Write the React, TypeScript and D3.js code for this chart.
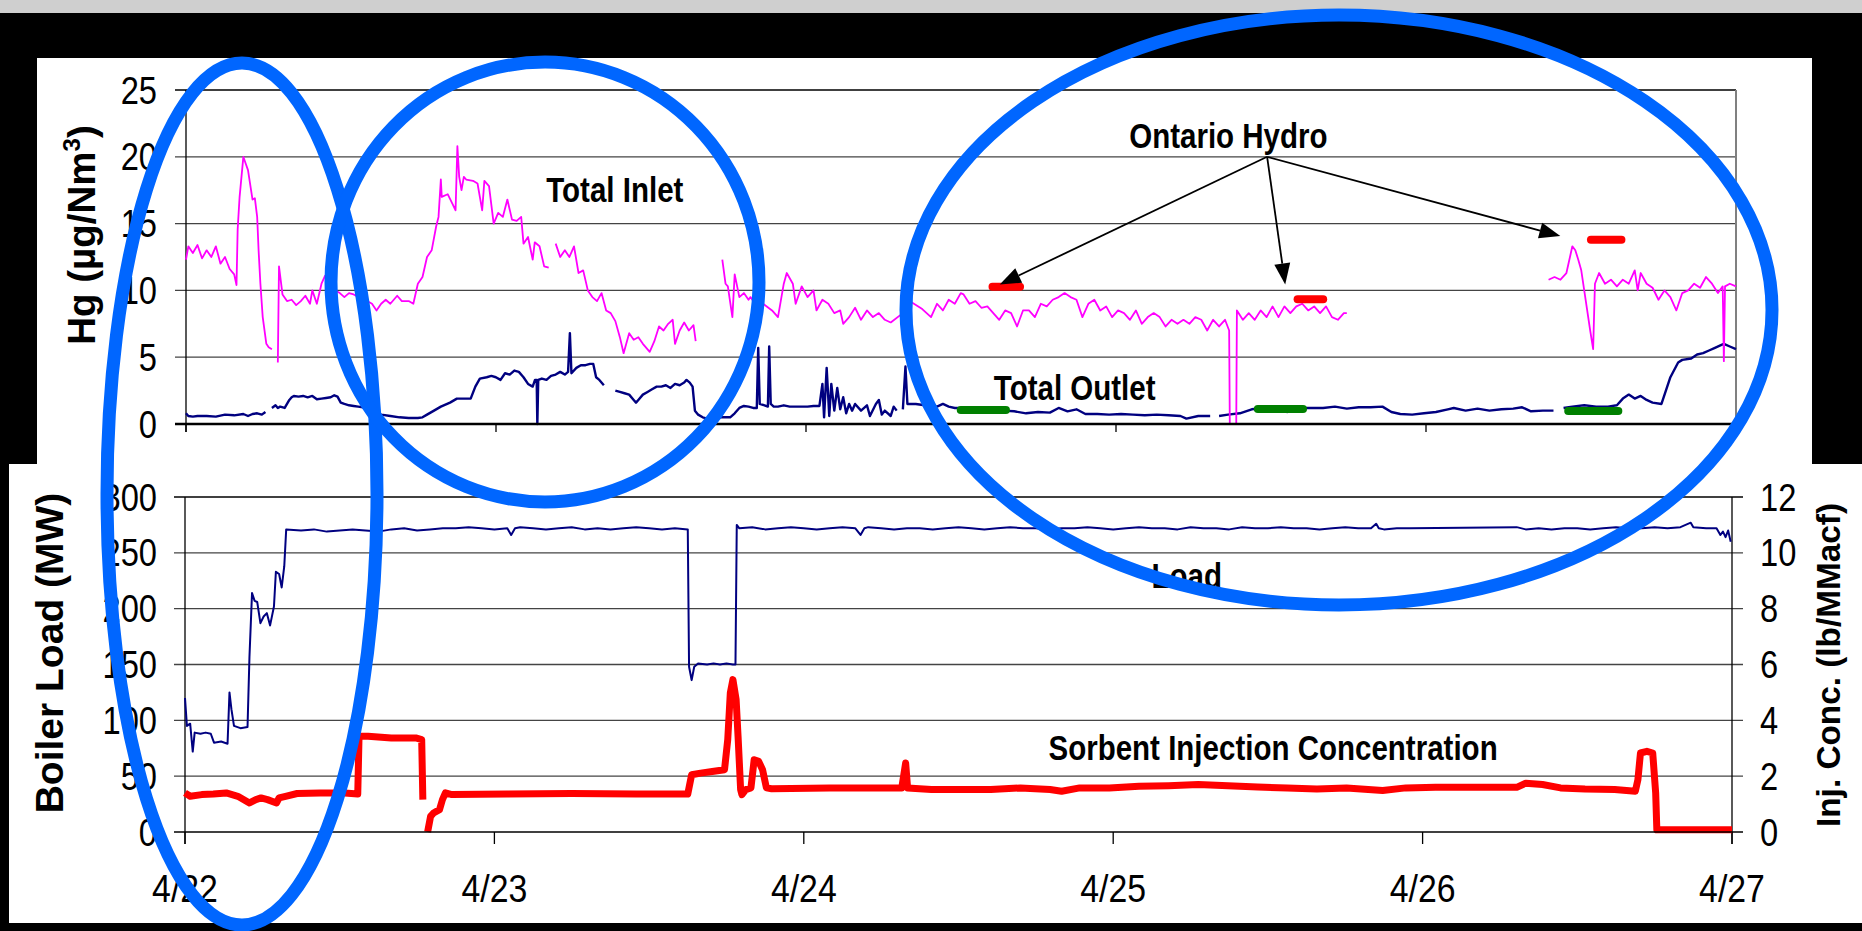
import React from 'react';
import * as d3 from 'd3';

type Pt = [number, number];

// Time axis: hours since 4/22 00:00
const dayLabels = ['4/22', '4/23', '4/24', '4/25', '4/26', '4/27'];
const dayHours = [0, 24, 48, 72, 96, 120];
const hgTicks = [0, 5, 10, 15, 20, 25];
const loadTicks = [0, 50, 100, 150, 200, 250, 300];
const injTicks = [0, 2, 4, 6, 8, 10, 12];

// Total inlet Hg (µg/Nm3), continuous-monitor segments
const inletA: Pt[] = [[0.0, 12.3], [0.18, 13.3], [0.53, 12.8], [0.89, 13.4], [1.24, 12.4], [1.6, 13.0], [1.96, 12.5], [2.31, 13.3], [2.67, 12.0], [3.02, 12.5], [3.38, 11.6], [3.73, 11.2], [3.91, 10.4], [4.0, 14.6], [4.15, 17.0], [4.44, 20.0], [4.62, 19.5], [4.8, 19.0], [5.15, 16.8], [5.33, 16.9], [5.51, 15.5], [5.62, 13.0], [5.76, 10.5], [5.94, 8.0], [6.22, 6.0], [6.4, 5.75], [6.65, 5.6]];
const inletB: Pt[] = [[7.11, 4.6], [7.2, 11.8], [7.47, 9.7], [7.82, 9.2], [8.18, 9.3], [8.53, 8.9], [8.89, 9.2], [9.24, 9.6], [9.6, 9.0], [9.78, 10.0], [10.13, 9.0], [10.49, 10.5], [10.77, 11.1], [11.02, 10.5], [11.55, 10.0], [11.91, 9.8], [12.26, 9.5], [12.62, 9.8], [12.98, 9.7], [13.33, 9.5], [13.86, 9.3], [14.4, 9.0], [14.75, 8.5], [15.11, 9.0], [15.46, 9.3], [15.82, 9.0], [16.35, 9.6], [16.71, 9.2], [17.24, 9.2], [17.6, 9.0], [17.95, 10.5], [18.31, 11.0], [18.66, 12.5], [19.02, 13.0], [19.37, 14.8], [19.55, 15.5], [19.73, 18.3], [19.8, 17.0], [20.26, 17.2], [20.62, 16.5], [20.87, 16.0], [21.01, 20.8], [21.15, 18.5], [21.33, 17.5], [21.51, 18.5], [21.69, 18.3], [22.22, 18.2], [22.57, 18.0], [22.75, 17.0], [22.93, 16.0], [23.1, 18.2], [23.46, 17.8], [23.82, 15.0], [24.17, 15.8], [24.53, 15.5], [24.88, 16.8], [25.24, 15.3], [25.6, 15.2], [25.95, 15.5], [26.13, 13.5], [26.48, 14.0], [26.84, 12.3], [27.0, 13.6], [27.37, 13.3], [27.73, 11.8], [28.08, 11.7]];
const inletC: Pt[] = [[28.62, 13.5], [28.97, 12.5], [29.33, 13.0], [29.68, 12.5], [30.04, 13.3], [30.39, 11.3], [30.75, 11.5], [31.11, 10.0], [31.46, 9.5], [31.82, 9.2], [32.17, 9.8], [32.53, 8.5], [32.88, 8.3], [33.24, 7.7], [33.59, 6.5], [33.88, 5.3], [34.31, 6.8], [34.66, 6.3], [35.02, 6.5], [35.37, 6.0], [35.9, 5.4], [36.26, 6.2], [36.62, 7.3], [36.97, 7.0], [37.33, 7.5], [37.68, 7.8], [37.86, 6.0], [38.22, 7.0], [38.57, 7.6], [38.93, 7.0], [39.29, 7.4], [39.46, 6.2]];
const inletD: Pt[] = [[41.52, 12.3], [41.77, 10.5], [41.95, 10.3], [42.3, 8.0], [42.48, 11.2], [42.84, 9.5], [43.19, 9.8], [43.55, 9.3], [43.7, 9.5], [44.2, 8.8], [44.68, 9.0], [45.37, 8.5], [45.83, 8.0], [46.28, 10.5], [46.51, 11.3], [46.98, 10.5], [47.2, 9.0], [47.67, 10.3], [48.12, 9.5], [48.58, 10.0], [48.81, 8.5], [49.27, 9.3], [49.73, 9.0], [50.19, 8.3], [50.65, 8.5], [50.88, 7.5], [51.34, 8.0], [51.8, 8.7], [52.26, 7.8], [52.72, 8.5], [53.18, 8.0], [53.64, 8.3], [54.1, 7.8], [54.56, 7.6], [55.5, 8.3], [56.2, 9.1], [57.0, 8.6], [57.68, 8.0], [58.14, 9.0], [58.6, 8.5], [59.05, 9.3], [59.52, 9.0], [59.98, 9.8], [60.2, 9.7], [60.66, 9.0], [61.12, 9.2], [61.58, 8.7], [62.04, 8.8], [62.5, 8.3], [62.96, 7.8], [63.42, 8.5], [63.88, 8.3], [64.34, 7.3], [64.8, 8.5], [65.26, 8.5], [65.72, 8.0], [66.18, 9.0], [66.64, 8.8], [67.1, 9.3], [67.56, 9.5], [68.02, 9.8], [68.48, 9.5], [68.94, 9.3], [69.4, 8.0], [69.86, 9.0], [70.32, 9.3], [70.78, 8.5], [71.24, 8.8], [71.7, 8.0], [72.16, 8.5], [72.62, 8.3], [73.08, 7.8], [73.54, 8.5], [74.0, 7.5], [74.46, 8.0], [74.92, 8.3], [75.38, 8.0], [75.84, 7.3], [76.3, 7.8], [76.76, 7.5], [77.22, 7.8], [77.68, 7.5], [78.14, 8.0], [78.6, 7.8], [79.06, 7.0], [79.52, 7.8], [79.98, 7.3], [80.44, 7.8], [80.76, 7.0], [80.81, 0], [81.31, 0], [81.36, 8.5], [81.82, 7.8], [82.28, 8.3], [82.74, 7.8], [83.2, 8.5], [83.66, 8.0], [84.12, 8.8], [84.58, 8.0], [85.04, 8.8], [85.5, 8.3], [85.96, 8.8], [86.42, 9.0], [86.88, 8.5], [87.34, 8.8], [87.8, 8.3], [88.26, 8.8], [88.72, 8.0], [89.18, 7.8], [89.64, 8.3], [89.87, 8.3]];
const inletE: Pt[] = [[105.49, 10.8], [105.95, 11.0], [106.41, 10.8], [106.87, 11.3], [107.33, 13.3], [107.56, 13.0], [107.79, 12.3], [108.02, 11.5], [108.25, 10.0], [108.71, 7.0], [108.94, 5.6], [109.08, 10.5], [109.4, 11.3], [109.86, 10.5], [110.32, 10.8], [110.78, 10.3], [111.24, 10.8], [111.7, 10.5], [112.16, 11.5], [112.39, 10.0], [112.62, 11.3], [113.08, 10.5], [113.54, 10.2], [114.0, 9.3], [114.46, 10.0], [114.92, 9.5], [115.38, 8.5], [115.84, 9.8], [116.3, 10.0], [116.76, 10.5], [117.22, 10.2], [117.68, 11.0], [118.14, 10.5], [118.6, 9.8], [118.97, 10.3], [119.06, 4.7], [119.15, 10.3], [119.52, 10.5], [120, 10.3]];

// Total outlet Hg (µg/Nm3)
const outletA: Pt[] = [[0, 0.8], [0.18, 0.6], [0.53, 0.55], [0.89, 0.6], [1.6, 0.6], [2.31, 0.55], [3.02, 0.7], [3.73, 0.65], [4.44, 0.75], [4.8, 0.6], [5.15, 0.75], [5.51, 0.8], [5.87, 0.7], [6.15, 0.9]];
const outletB: Pt[] = [[6.65, 1.2], [6.93, 1.4], [7.11, 1.2], [7.29, 1.3], [7.64, 1.2], [7.82, 1.5], [8.0, 1.8], [8.18, 2.0], [8.35, 2.1], [8.71, 2.05], [9.07, 2.1], [9.42, 2.0], [9.78, 2.1], [10.13, 1.85], [10.49, 1.9], [10.84, 1.95], [11.2, 2.0], [11.48, 2.15], [11.73, 2.05], [11.98, 1.6], [12.26, 1.5], [12.62, 1.4], [12.98, 1.35], [13.33, 1.3], [13.69, 1.25], [14.4, 0.9], [15.11, 0.7], [15.82, 0.6], [16.53, 0.5], [17.24, 0.45], [17.95, 0.45], [18.31, 0.5], [18.66, 0.7], [19.2, 1.0], [19.73, 1.3], [20.44, 1.6], [20.97, 1.9], [21.51, 1.9], [22.04, 1.9], [22.4, 2.8], [22.75, 3.4], [23.28, 3.5], [23.64, 3.6], [23.99, 3.5], [24.35, 3.3], [24.7, 3.8], [25.06, 3.7], [25.42, 4.0], [25.77, 3.9], [26.13, 3.5], [26.48, 3.0], [26.84, 2.8], [27.02, 3.3], [27.15, 3.3], [27.2, 0.0], [27.27, 3.3], [27.55, 3.4], [27.91, 3.3], [28.26, 3.6], [28.62, 3.7], [28.97, 3.9], [29.33, 3.7], [29.58, 3.9], [29.72, 6.8], [29.84, 3.8], [30.22, 4.2], [30.57, 4.4], [30.93, 4.4], [31.28, 4.5], [31.53, 4.5], [31.75, 3.5], [32.0, 3.3], [32.35, 2.9]];
const outletC: Pt[] = [[33.24, 2.5], [33.59, 2.4], [33.95, 2.3], [34.31, 2.2], [34.66, 1.8], [34.84, 1.6], [35.02, 1.8], [35.37, 2.2], [35.73, 2.4], [36.08, 2.6], [36.44, 2.8], [36.8, 2.8], [37.15, 2.9], [37.51, 2.7], [37.86, 3.0], [38.22, 2.9], [38.57, 3.1], [38.75, 3.3], [39.0, 3.1], [39.22, 2.8], [39.4, 1.0], [39.65, 0.7], [40.0, 0.5], [40.35, 0.4], [40.71, 0.35], [41.42, 0.5], [42.13, 0.5], [42.48, 0.8], [42.84, 1.2], [43.19, 1.35], [43.55, 1.3], [43.91, 1.2], [44.19, 1.2], [44.3, 5.7], [44.42, 1.5], [44.79, 1.4], [45.05, 1.3], [45.15, 5.8], [45.27, 1.5], [45.5, 1.3], [45.83, 1.3], [46.28, 1.4], [46.74, 1.3], [47.2, 1.3], [47.67, 1.3], [48.12, 1.3], [48.58, 1.35], [49.04, 1.35], [49.27, 3.0], [49.4, 0.5], [49.6, 4.2], [49.8, 0.6], [49.96, 3.0], [50.19, 1.0], [50.42, 2.7], [50.65, 1.1], [50.88, 2.0], [51.11, 0.8], [51.34, 1.5], [51.57, 1.0], [51.8, 1.5], [52.26, 1.0], [52.72, 1.4], [52.95, 0.6], [53.41, 1.5], [53.64, 1.8], [53.87, 0.7], [54.1, 1.0], [54.56, 0.6], [54.79, 1.3], [55.02, 1.0]];
const outletD: Pt[] = [[55.5, 1.1], [55.7, 4.3], [55.85, 1.5], [56.5, 1.5], [57.2, 1.4], [57.68, 1.4], [58.14, 1.3], [58.6, 1.5], [59.05, 1.3], [59.52, 1.2], [60.44, 1.2], [61.36, 1.15], [62.28, 1.1], [63.2, 1.0], [64.12, 0.95], [65.04, 0.8], [65.96, 0.9], [66.88, 0.85], [67.56, 1.2], [68.25, 0.95], [68.94, 1.1], [69.63, 0.75], [70.55, 0.75], [71.47, 0.7], [72.39, 0.75], [73.31, 0.7], [74.23, 0.65], [75.15, 0.7], [76.07, 0.65], [76.99, 0.6], [77.45, 0.4], [78.37, 0.6], [79.29, 0.6]];
const outletE: Pt[] = [[79.98, 0.6], [80.67, 0.7], [81.59, 0.8], [82.51, 1.1], [83.43, 1.2], [84.35, 1.15], [85.27, 0.9], [86.19, 1.2], [87.11, 1.2], [88.03, 1.2], [88.95, 1.3], [89.87, 1.15], [90.79, 1.25], [91.71, 1.25], [92.63, 1.3], [93.32, 0.9], [94.01, 0.75], [94.93, 0.7], [95.85, 0.8], [96.77, 0.9], [97.69, 1.1], [98.15, 1.2], [99.07, 1.0], [99.99, 1.15], [100.91, 1.0], [101.83, 1.1], [102.75, 1.15], [103.44, 1.25], [104.13, 0.95], [105.05, 1.0], [105.87, 1.0]];
const outletF: Pt[] = [[106.65, 1.2], [107.33, 1.3], [108.25, 1.4], [109.17, 1.3], [110.09, 1.3], [110.78, 1.4], [111.24, 1.9], [111.7, 2.2], [112.16, 1.9], [112.62, 2.1], [113.08, 1.8], [113.54, 1.6], [114.23, 1.5], [114.92, 3.5], [115.52, 4.6], [115.84, 4.8], [116.53, 4.9], [116.99, 5.2], [117.45, 5.3], [117.91, 5.5], [118.37, 5.7], [118.83, 5.9], [119.06, 6.0], [119.52, 5.8], [120, 5.6]];

// Ontario Hydro method results: [start hour, end hour, value]
const ohInlet: [number, number, number][] = [[62.13, 64.88, 10.28], [85.75, 88.35, 9.33], [108.46, 111.44, 13.79]];
const ohOutlet: [number, number, number][] = [[59.67, 63.79, 1.04], [82.67, 86.79, 1.13], [106.7, 111.2, 0.98]];

// Boiler load (MW)
const loadA: Pt[] = [[0, 120], [0.15, 95], [0.4, 97], [0.6, 72], [0.75, 89], [1.2, 88], [1.6, 89], [2.0, 88], [2.25, 80], [2.8, 81], [3.3, 79], [3.45, 125], [3.6, 110], [3.8, 95], [4.3, 93], [4.85, 94], [5.0, 157], [5.2, 214], [5.4, 207], [5.6, 206], [5.85, 187], [6.1, 193], [6.35, 196], [6.6, 185], [6.9, 202], [7.05, 233], [7.3, 231], [7.5, 219], [7.7, 238], [7.85, 271], [9, 270], [10, 271], [11, 269], [12, 270], [13, 271], [14, 270], [15, 269], [16, 271], [17, 272], [18, 270], [19, 271], [20, 272], [21, 272], [22, 273], [23, 272], [24, 271], [25, 272], [25.3, 266], [25.6, 272], [26, 273], [27, 272], [28, 271], [29, 272], [30, 273], [31, 271], [32, 272], [33, 271], [34, 272], [35, 273], [36, 272], [37, 271], [38, 272], [39.0, 271], [39.1, 148], [39.3, 136], [39.5, 148], [39.8, 151], [40.5, 150], [41, 151], [41.5, 150], [42, 151], [42.5, 150], [42.7, 150], [42.8, 275], [43, 272], [44, 273], [45, 271], [46, 272], [47, 273], [48, 272], [49, 271], [50, 272], [51, 273], [52, 272], [52.4, 266], [52.7, 272], [53, 273], [54, 272], [55, 271], [56, 272], [57, 272], [58, 271], [59, 272], [60, 273], [61, 272], [62, 271], [63, 272], [64, 273], [65, 272], [66, 272], [67, 271], [68, 272], [69, 272], [70, 273], [71, 272], [72, 271], [73, 272], [74, 273], [75, 272], [76, 272], [77, 271], [78, 273], [79, 272], [80, 272], [81, 271], [82, 273], [83, 272], [84, 272], [85, 273], [86, 272], [87, 272], [88, 271], [89, 272], [90, 273], [91, 272], [92, 272], [92.4, 276], [92.6, 272], [93, 271], [94, 272], [95, 272], [103.3, 273], [104, 271], [105, 272], [106, 271], [107, 272], [108, 272], [109, 271], [110, 272], [111, 273], [112, 272], [113, 272], [114, 273], [115, 272], [116, 273], [116.8, 277], [117, 273], [118, 272], [118.8, 272], [119.1, 266], [119.3, 269], [119.5, 264], [119.7, 270], [119.9, 260]];

// Sorbent injection concentration (lb/MMacf)
const injA: Pt[] = [[0, 1.4], [0.4, 1.28], [1.3, 1.34], [2.2, 1.36], [3.2, 1.4], [4.1, 1.28], [5.0, 1.04], [5.5, 1.16], [5.9, 1.22], [6.4, 1.16], [7.1, 1.04], [7.3, 1.22], [7.8, 1.28], [8.7, 1.38], [10.5, 1.4], [12.4, 1.4], [13.4, 1.36], [13.5, 3.43], [14.2, 3.43], [16.0, 3.37], [17.9, 3.37], [18.36, 3.31], [18.45, 1.16]];
const injB: Pt[] = [[18.82, 0], [19.05, 0.56], [19.28, 0.68], [19.74, 0.8], [19.97, 1.16], [20.2, 1.4], [20.7, 1.34], [25, 1.36], [30, 1.38], [35, 1.36], [39.0, 1.36], [39.3, 2.05], [40.0, 2.11], [40.9, 2.17], [41.85, 2.23], [42.1, 3.31], [42.3, 4.98], [42.5, 5.46], [42.75, 4.74], [42.9, 3.43], [43.1, 1.52], [43.2, 1.34], [43.5, 1.52], [43.9, 1.58], [44.15, 2.59], [44.5, 2.53], [44.8, 2.23], [45.1, 1.58], [45.5, 1.55], [50, 1.58], [55.6, 1.58], [55.9, 2.47], [56.05, 1.58], [57.9, 1.52], [62.5, 1.52], [64.8, 1.58], [67.1, 1.52], [68.0, 1.46], [69.4, 1.58], [71.7, 1.58], [74.0, 1.64], [76.3, 1.66], [78.6, 1.7], [80.9, 1.66], [83.2, 1.61], [85.5, 1.58], [87.8, 1.54], [90.1, 1.58], [92.9, 1.49], [94.7, 1.58], [97, 1.6], [103.3, 1.6], [104, 1.75], [105.3, 1.7], [106.7, 1.58], [108.6, 1.54], [110.9, 1.52], [112.5, 1.46], [112.7, 1.87], [112.9, 2.83], [113.4, 2.89], [113.85, 2.83], [114.08, 1.4], [114.17, 0.08], [114.5, 0.08], [120, 0.08]];

// Annotation anchors in data units (hours, µg/Nm3)
const ohLabelAt: Pt = [80.7, 20.65];
const ohArrowFrom: Pt = [83.7, 20.0];
const ohArrowTips: Pt[] = [[63.0, 10.44], [85.1, 10.44], [106.4, 14.07]];

const SANS = "'Liberation Sans', Arial, Helvetica, sans-serif";
const HIGHLIGHT = '#0066ff';

function NText(props: { x: number; y: number; anchor?: 'start' | 'middle' | 'end'; size: number; bold?: boolean; sx?: number; children: React.ReactNode }) {
  const { x, y, anchor = 'start', size, bold = false, sx = 0.84, children } = props;
  return (
    <text
      transform={`translate(${x},${y}) scale(${sx},1)`}
      textAnchor={anchor}
      fontFamily={SANS}
      fontSize={size}
      fontWeight={bold ? 'bold' : 'normal'}
      fill="#000"
    >
      {children}
    </text>
  );
}

export default function App() {
  React.useEffect(() => {
    document.body.style.margin = '0';
    document.body.style.overflow = 'hidden';
  }, []);

  const W = 1862;
  const H = 931;

  const xUp = d3.scaleLinear().domain([0, 120]).range([186, 1736]);
  const yHg = d3.scaleLinear().domain([0, 25]).range([424, 90]);
  const xLo = d3.scaleLinear().domain([0, 120]).range([185, 1732]);
  const yLoad = d3.scaleLinear().domain([0, 300]).range([832, 497]);
  const yInj = d3.scaleLinear().domain([0, 12]).range([832, 497]);

  const hgLine = d3.line<Pt>().x((d) => xUp(d[0])).y((d) => yHg(d[1]));
  const loadLine = d3.line<Pt>().x((d) => xLo(d[0])).y((d) => yLoad(d[1]));
  const injLine = d3.line<Pt>().x((d) => xLo(d[0])).y((d) => yInj(d[1]));

  const inletSegs = [inletA, inletB, inletC, inletD, inletE];
  const outletSegs = [outletA, outletB, outletC, outletD, outletE, outletF];

  const [ox, oy] = [xUp(ohArrowFrom[0]), yHg(ohArrowFrom[1])];

  return (
    <svg width={W} height={H} style={{ position: 'absolute', left: 0, top: 0, display: 'block' }}>
      {/* backdrop */}
      <rect x={0} y={0} width={W} height={H} fill="#000" />
      <rect x={0} y={0} width={W} height={13} fill="#cfcfcf" />
      <rect x={37} y={58} width={1775} height={407} fill="#fff" />
      <rect x={9} y={464} width={1853} height={459} fill="#fff" />

      {/* ---- upper panel: Hg ---- */}
      {hgTicks.filter((t) => t > 0).map((t) => (
        <line key={`hg-g${t}`} x1={175} x2={xUp(120)} y1={yHg(t)} y2={yHg(t)} stroke={t === 25 ? '#000' : '#444'} strokeWidth={1.3} />
      ))}
      <line x1={xUp(120)} x2={xUp(120)} y1={yHg(25)} y2={yHg(0)} stroke="#808080" strokeWidth={2} />
      <line x1={xUp(0)} x2={xUp(0)} y1={yHg(25)} y2={yHg(0) + 8} stroke="#000" strokeWidth={1.3} />
      {dayHours.map((h) => (
        <line key={`hg-t${h}`} x1={xUp(h)} x2={xUp(h)} y1={yHg(0)} y2={yHg(0) + 8} stroke="#000" strokeWidth={1.3} />
      ))}
      {hgTicks.map((t) => (
        <NText key={`hg-l${t}`} x={157} y={yHg(t) + 13.6} anchor="end" size={38} sx={0.86}>{t}</NText>
      ))}

      {outletSegs.map((s, i) => (
        <path key={`out${i}`} d={hgLine(s) || ''} fill="none" stroke="#000080" strokeWidth={2.4} strokeLinejoin="round" />
      ))}
      {inletSegs.map((s, i) => (
        <path key={`in${i}`} d={hgLine(s) || ''} fill="none" stroke="#ff00ff" strokeWidth={1.8} strokeLinejoin="round" />
      ))}
      <line x1={175} x2={xUp(120)} y1={yHg(0)} y2={yHg(0)} stroke="#000" strokeWidth={2.5} />

      {ohInlet.map(([a, b, v], i) => (
        <line key={`ohi${i}`} x1={xUp(a) + 4} x2={xUp(b) - 4} y1={yHg(v)} y2={yHg(v)} stroke="#ff0000" strokeWidth={8} strokeLinecap="round" />
      ))}
      {ohOutlet.map(([a, b, v], i) => (
        <line key={`oho${i}`} x1={xUp(a) + 4} x2={xUp(b) - 4} y1={yHg(v)} y2={yHg(v)} stroke="#008000" strokeWidth={8} strokeLinecap="round" />
      ))}

      {/* Ontario Hydro call-outs */}
      {ohArrowTips.map(([h, v], i) => {
        const tx = xUp(h);
        const ty = yHg(v);
        const dx = tx - ox;
        const dy = ty - oy;
        const len = Math.hypot(dx, dy);
        const ux = dx / len;
        const uy = dy / len;
        const hl = 21;
        const hw = 8;
        const bx = tx - ux * hl;
        const by = ty - uy * hl;
        const pts = [[tx, ty], [bx - uy * hw, by + ux * hw], [bx + uy * hw, by - ux * hw]];
        return (
          <g key={`arr${i}`}>
            <line x1={ox} y1={oy} x2={bx} y2={by} stroke="#000" strokeWidth={1.8} />
            <polygon points={pts.map((p) => p.join(',')).join(' ')} fill="#000" />
          </g>
        );
      })}
      <NText x={xUp(ohLabelAt[0])} y={yHg(ohLabelAt[1])} anchor="middle" size={36} bold sx={0.82}>Ontario Hydro</NText>
      <NText x={xUp(33.2)} y={yHg(16.6)} anchor="middle" size={36} bold sx={0.82}>Total Inlet</NText>
      <NText x={xUp(68.8)} y={yHg(1.8)} anchor="middle" size={36} bold sx={0.82}>Total Outlet</NText>

      <text transform={`translate(94.5,235) rotate(-90)`} textAnchor="middle" fontFamily={SANS} fontWeight="bold" fontSize={38.5} fill="#000">
        Hg (µg/Nm<tspan fontSize={24} dy={-15}>3</tspan><tspan dy={15}>)</tspan>
      </text>

      {/* ---- lower panel: load and injection ---- */}
      {loadTicks.filter((t) => t > 0).map((t) => (
        <line key={`ld-g${t}`} x1={174} x2={xLo(120) + 11} y1={yLoad(t)} y2={yLoad(t)} stroke={t === 300 ? '#000' : '#444'} strokeWidth={1.3} />
      ))}
      <line x1={xLo(0)} x2={xLo(0)} y1={yLoad(300)} y2={yLoad(0) + 12} stroke="#000" strokeWidth={1.3} />
      <line x1={xLo(120)} x2={xLo(120)} y1={yLoad(300)} y2={yLoad(0) + 12} stroke="#000" strokeWidth={1.3} />
      {dayHours.map((h) => (
        <line key={`ld-t${h}`} x1={xLo(h)} x2={xLo(h)} y1={yLoad(0)} y2={yLoad(0) + 12} stroke="#000" strokeWidth={1.3} />
      ))}
      {loadTicks.map((t) => (
        <NText key={`ld-l${t}`} x={157} y={yLoad(t) + 13.6} anchor="end" size={38} sx={0.86}>{t}</NText>
      ))}
      {injTicks.map((t) => (
        <NText key={`inj-l${t}`} x={1760} y={yInj(t) + 13.6} anchor="start" size={38} sx={0.86}>{t}</NText>
      ))}
      {dayHours.map((h, i) => (
        <NText key={`day${h}`} x={xLo(h)} y={901.6} anchor="middle" size={38} sx={0.89}>{dayLabels[i]}</NText>
      ))}

      <path d={loadLine(loadA) || ''} fill="none" stroke="#000080" strokeWidth={2} strokeLinejoin="round" />
      <path d={injLine(injA) || ''} fill="none" stroke="#ff0000" strokeWidth={7} strokeLinejoin="round" />
      <path d={injLine(injB) || ''} fill="none" stroke="#ff0000" strokeWidth={7} strokeLinejoin="round" />
      <line x1={174} x2={xLo(120) + 11} y1={yLoad(0)} y2={yLoad(0)} stroke="#000" strokeWidth={1.6} />

      <NText x={xLo(77.7)} y={yLoad(218.5)} anchor="middle" size={36} bold sx={0.82}>Load</NText>
      <NText x={xLo(84.4)} y={yLoad(64.5)} anchor="middle" size={36} bold sx={0.82}>Sorbent Injection Concentration</NText>

      <text transform={`translate(63,653) rotate(-90)`} textAnchor="middle" fontFamily={SANS} fontWeight="bold" fontSize={39} fill="#000">
        Boiler Load (MW)
      </text>
      <text transform={`translate(1840,665) rotate(-90)`} textAnchor="middle" fontFamily={SANS} fontWeight="bold" fontSize={34} fill="#000" textLength={324} lengthAdjust="spacingAndGlyphs">
        Inj. Conc. (lb/MMacf)
      </text>

      {/* highlight rings */}
      <ellipse cx={242} cy={494} rx={135} ry={431} fill="none" stroke={HIGHLIGHT} strokeWidth={13} />
      <ellipse cx={545} cy={282} rx={214} ry={220} fill="none" stroke={HIGHLIGHT} strokeWidth={13} />
      <ellipse cx={1339} cy={310} rx={433} ry={295} fill="none" stroke={HIGHLIGHT} strokeWidth={13} />
    </svg>
  );
}
